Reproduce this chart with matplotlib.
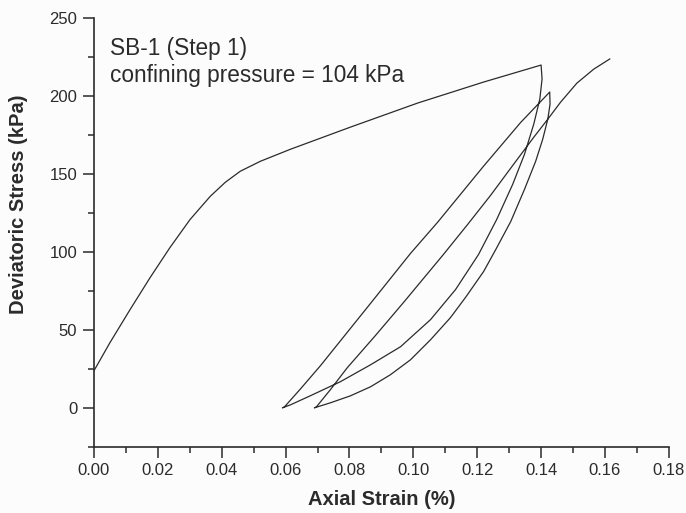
import numpy as np
import matplotlib
matplotlib.use('Agg')
import matplotlib.pyplot as plt
from matplotlib.ticker import MultipleLocator, FormatStrFormatter

plt.rcParams['font.family'] = ['Liberation Sans', 'DejaVu Sans']

# Data: axial strain (%) and deviatoric stress (kPa)
# first loading
load_strain = [0.0, 0.0050, 0.0113, 0.0176, 0.0238, 0.0301, 0.0364, 0.0411,
               0.0458, 0.0521, 0.0615, 0.0803, 0.1013, 0.1220, 0.1400]
load_stress = [23.8, 41.8, 63.0, 83.6, 102.8, 120.8, 135.6, 144.6,
               151.7, 158.1, 165.8, 180.0, 195.4, 208.9, 219.8]

# first unloading
unload1_strain = [0.1400, 0.1403, 0.1396, 0.1377, 0.1348, 0.1311, 0.1261, 0.1204,
                  0.1132, 0.1054, 0.0960, 0.0866, 0.0771, 0.0677, 0.0615, 0.0590]
unload1_stress = [219.8, 210.8, 198.0, 181.9, 162.6, 143.3, 120.8, 98.3,
                  75.8, 56.6, 39.2, 27.6, 16.7, 7.7, 1.9, 0.0]

# first reloading
reload1_strain = [0.0596, 0.0646, 0.0709, 0.0866, 0.0991, 0.1076, 0.1220, 0.1336, 0.1427]
reload1_stress = [0.5, 12.0, 27.0, 67.0, 99.0, 119.0, 155.0, 183.0, 202.5]

# second unloading
unload2_strain = [0.1427, 0.1428, 0.1421, 0.1405, 0.1383, 0.1348, 0.1305, 0.1258, 0.1220,
                  0.1163, 0.1116, 0.1054, 0.0991, 0.0928, 0.0866, 0.0803, 0.0740, 0.0690]
unload2_stress = [202.5, 194.7, 185.1, 172.2, 158.1, 140.1, 119.5, 101.5, 87.4,
                  70.7, 57.8, 43.7, 30.8, 21.2, 13.5, 7.7, 3.2, 0.0]

# second reloading
reload2_strain = [0.0696, 0.0740, 0.0793, 0.0881, 0.0969, 0.1094, 0.1170, 0.1242,
                  0.1314, 0.1377, 0.1421, 0.1461, 0.1512, 0.1565, 0.1615]
reload2_stress = [0.5, 11.6, 25.7, 46.3, 67.5, 98.3, 117.6, 136.3,
                  156.2, 173.5, 185.1, 196.0, 208.2, 217.2, 223.7]

strain = np.concatenate([load_strain, unload1_strain, reload1_strain,
                         unload2_strain, reload2_strain])
stress = np.concatenate([load_stress, unload1_stress, reload1_stress,
                         unload2_stress, reload2_stress])

ink = '#2b2b2b'

fig = plt.figure(figsize=(6.86, 5.13), dpi=100, facecolor='#fcfcfd')
ax = fig.add_axes([0.137, 0.129, 0.838, 0.836])
ax.set_facecolor('#fcfcfd')

# the curve
ax.plot(strain, stress, color=ink, linewidth=0.9)

# limits and ticks
ax.set_xlim(0, 0.18)
ax.set_ylim(-25, 250)
ax.xaxis.set_major_locator(MultipleLocator(0.02))
ax.xaxis.set_minor_locator(MultipleLocator(0.01))
ax.xaxis.set_major_formatter(FormatStrFormatter('%.2f'))
ax.yaxis.set_major_locator(MultipleLocator(50))
ax.yaxis.set_minor_locator(MultipleLocator(25))
ax.tick_params(which='major', direction='out', length=8, width=1.1,
               color=ink, labelsize=12, labelcolor=ink, pad=4)
ax.tick_params(which='minor', direction='out', length=4, width=1.1, color=ink)

# only left and bottom axes
ax.spines['top'].set_visible(False)
ax.spines['right'].set_visible(False)
ax.spines['left'].set_color(ink)
ax.spines['bottom'].set_color(ink)
ax.spines['left'].set_linewidth(1.2)
ax.spines['bottom'].set_linewidth(1.2)

ax.set_xlabel('Axial Strain (%)', fontsize=14.5, fontweight='bold', color=ink, labelpad=8)
ax.set_ylabel('Deviatoric Stress (kPa)', fontsize=14.5, fontweight='bold', color=ink, labelpad=12)
ax.yaxis.set_label_coords(-0.115, 0.565)

# annotation
ax.text(0.027, 0.955, 'SB-1 (Step 1)\nconfining pressure = 104 kPa',
        transform=ax.transAxes, fontsize=16.3, color=ink, va='top', ha='left',
        linespacing=1.2)

fig.savefig('out.png', dpi=100, facecolor=fig.get_facecolor())
